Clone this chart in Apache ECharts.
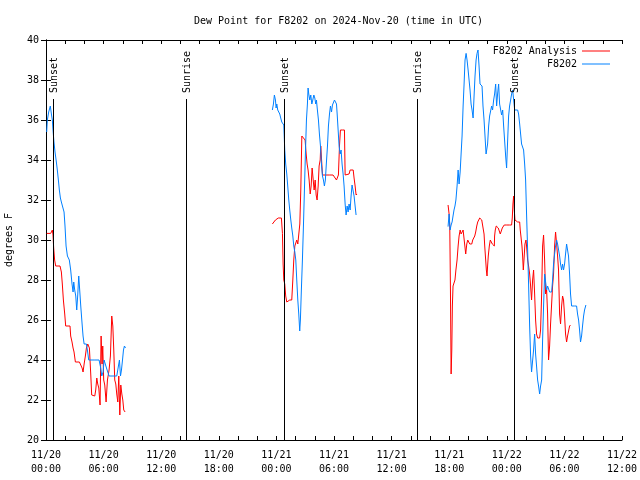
<!DOCTYPE html>
<html><head><meta charset="utf-8">
<script src="https://cdn.jsdelivr.net/npm/echarts@6/dist/echarts.min.js"></script>
<style>html,body{margin:0;padding:0;background:#fff}#c{width:640px;height:480px}</style>
</head><body><div id="c"></div>
<script>
const FONT = '"DejaVu Sans Mono", "Liberation Mono", monospace';
const titleText = 'Dew Point for F8202 on 2024-Nov-20 (time in UTC)';
const yName = 'degrees F';
const xTickLabels = ['11/20\n00:00','11/20\n06:00','11/20\n12:00','11/20\n18:00','11/21\n00:00','11/21\n06:00','11/21\n12:00','11/21\n18:00','11/22\n00:00','11/22\n06:00','11/22\n12:00'];
// hours since 2024-11-20 00:00 UTC
const sunHours = [0.76, 14.61, 24.84, 38.61, 48.73];
const sunLabels = ['Sunset','Sunrise','Sunset','Sunrise','Sunset'];
const sunTop = 37.05;

// F8202 Analysis (red)
const anaHours1 = [0.07,0.49,0.56,0.66,0.73,0.80,0.90,1.01,1.46,1.60,1.70,1.81,1.95,2.05,2.50,2.57,2.71,2.82,2.92,3.06,3.48,3.62,3.76,3.86,3.97,4.10,4.21,4.35,4.52,4.66,4.76,5.08,5.18,5.29,5.39,5.50,5.63,5.74,5.84,5.91,6.01,6.12,6.26,6.40,6.57,6.71,6.85,6.96,7.06,7.16,7.27,7.37,7.48,7.58,7.69,7.79,7.90,8.00,8.10,8.24];
const anaVals1 = [30.33,30.33,30.4,30.5,30.25,29.6,29.0,28.7,28.7,28.4,27.8,27.0,26.3,25.7,25.7,25.2,24.9,24.6,24.4,23.9,23.9,23.8,23.6,23.4,23.8,24.2,24.6,24.8,24.6,23.3,22.25,22.2,22.5,23.1,22.8,22.6,21.75,25.2,23.8,24.7,23.0,22.75,21.9,23.0,23.5,24.2,26.2,25.7,24.5,23.0,22.8,22.3,21.9,23.2,21.25,22.75,22.3,22.0,21.5,21.4];
const anaHours2 = [23.58,23.90,24.20,24.52,24.63,24.70,24.77,24.87,24.97,25.08,25.39,25.60,25.71,25.81,25.92,26.02,26.12,26.23,26.33,26.44,26.54,26.65,26.85,26.99,27.10,27.20,27.30,27.41,27.52,27.62,27.72,27.83,27.93,28.04,28.14,28.24,28.35,28.45,28.56,28.62,28.73,28.80,29.14,29.56,29.90,30.08,30.26,30.36,30.46,30.57,30.67,30.88,31.09,31.16,31.30,31.57,31.68,32.00,32.09,32.20,32.30,32.40];
const anaVals2 = [30.8,31.0,31.1,31.1,30.33,28.8,28.0,27.8,27.2,26.9,27.0,27.0,28.0,29.0,29.7,29.7,30.0,29.8,29.7,30.8,32.5,35.2,35.2,35.0,34.3,33.8,33.5,33.0,32.3,32.7,33.6,33.6,32.5,33.0,32.25,32.0,32.7,33.7,34.0,34.7,34.8,33.25,33.25,33.25,33.25,33.2,33.0,32.9,33.25,34.7,35.5,35.5,35.5,33.25,33.25,33.3,33.5,33.5,33.1,32.7,32.25,32.3];
const anaHours3 = [41.88,41.99,42.06,42.13,42.20,42.27,42.33,42.40,42.50,42.60,42.70,42.82,42.93,43.03,43.14,43.24,43.34,43.45,43.55,43.65,43.72,43.83,43.93,44.03,44.14,44.24,44.35,44.45,44.55,44.66,44.76,44.87,44.97,45.07,45.18,45.28,45.39,45.49,45.59,45.63,45.70,45.80,45.87,45.94,46.00,46.07,46.18,46.28,46.39,46.49,46.59,46.70,46.73,46.80,46.90,47.00,47.11,47.21,47.32,47.42,47.53,47.63,47.73,47.94,48.29,48.50,48.57,48.64,48.71,48.78,48.85,48.92,49.02,49.13,49.23,49.34,49.40,49.47,49.58,49.65,49.72,49.79,49.89,50.00,50.06,50.17,50.27,50.38,50.48,50.58,50.69,50.79,50.90,51.00,51.10,51.21,51.31,51.42,51.52,51.63,51.73,51.83,51.94,52.04,52.15,52.25,52.35,52.46,52.56,52.67,52.77,52.87,52.98,53.08,53.19,53.29,53.39,53.50,53.60,53.71,53.81,53.91,54.02,54.12,54.23,54.33,54.43,54.54,54.64];
const anaVals3 = [31.75,31.3,30.7,27.5,23.3,24.5,26.7,27.7,27.8,28.0,28.5,29.0,29.7,30.2,30.5,30.3,30.2,30.5,30.6,30.55,29.3,29.8,30.0,30.1,29.8,29.7,29.8,30.0,30.1,30.2,30.4,30.7,30.9,31.0,31.1,31.0,31.0,30.9,30.9,30.3,29.7,29.0,28.5,28.2,28.7,29.2,29.7,30.0,30.0,29.8,29.7,29.7,30.2,30.5,30.7,30.6,30.6,30.5,30.3,30.4,30.6,30.7,30.75,30.75,30.75,30.75,31.1,31.8,32.2,31.5,31.0,30.9,30.9,30.9,30.9,30.9,30.5,30.2,29.7,29.2,28.5,29.0,29.8,30.0,29.7,29.0,28.7,28.3,27.7,27.0,28.0,28.5,27.3,26.0,25.3,25.1,25.2,25.1,25.5,27.3,29.7,30.25,29.0,27.3,27.5,26.3,24.0,24.7,25.8,26.8,27.7,28.3,29.7,30.4,29.8,29.2,28.5,26.3,25.8,26.7,27.2,27.0,26.2,25.3,24.9,25.2,25.3,25.7,25.75];

// F8202 observations (blue)
const obsHours1 = [0.07,0.14,0.28,0.45,0.56,0.66,0.73,0.83,0.94,1.08,1.18,1.29,1.39,1.50,1.60,1.70,1.88,1.98,2.09,2.23,2.43,2.57,2.71,2.82,2.89,2.99,3.10,3.20,3.30,3.41,3.51,3.62,3.76,3.86,3.97,4.21,4.31,4.45,5.01,5.53,5.70,5.81,5.95,6.05,6.16,6.30,6.40,6.57,6.75,7.10,7.37,7.51,7.65,7.76,7.86,7.97,8.07,8.17,8.28];
const obsVals1 = [35.4,36.0,36.4,36.7,36.3,36.0,35.5,34.9,34.4,33.9,33.5,33.0,32.5,32.1,31.9,31.8,31.4,30.7,29.7,29.2,29.0,28.5,27.8,27.4,27.9,27.5,27.2,26.5,27.2,28.2,27.5,26.7,25.8,25.2,24.8,24.8,24.5,24.0,24.0,24.0,23.6,23.2,23.4,24.0,24.0,23.6,23.7,23.2,23.2,23.2,23.2,23.6,24.0,23.2,23.5,24.0,24.5,24.7,24.6];
const obsHours2 = [23.58,23.69,23.79,23.90,23.97,24.04,24.14,24.24,24.35,24.45,24.56,24.66,24.77,24.87,24.97,25.08,25.18,25.29,25.39,25.50,25.60,25.71,25.81,25.92,26.02,26.12,26.23,26.33,26.43,26.50,26.60,26.71,26.81,26.92,27.02,27.13,27.23,27.30,27.37,27.48,27.58,27.69,27.79,27.90,28.00,28.10,28.17,28.27,28.38,28.48,28.59,28.69,28.80,28.90,29.00,29.10,29.20,29.32,29.42,29.53,29.63,29.74,29.84,29.94,30.05,30.15,30.26,30.33,30.43,30.53,30.64,30.74,30.84,30.95,31.05,31.16,31.26,31.37,31.47,31.57,31.68,31.78,31.88,32.00,32.09,32.20,32.30];
const obsVals2 = [36.5,36.8,37.25,37.0,36.6,36.8,36.5,36.6,36.3,36.1,35.9,35.8,35.75,34.5,33.8,33.3,32.7,32.0,31.5,31.0,30.6,30.2,29.7,29.4,29.0,28.0,27.0,26.3,25.45,26.0,27.5,29.0,30.6,32.5,34.3,36.0,36.8,37.6,37.3,37.0,37.25,36.8,37.0,37.25,37.1,36.8,37.0,36.5,36.0,35.3,34.7,33.8,33.2,33.0,32.7,33.0,33.8,34.7,35.7,36.3,36.7,36.4,36.75,36.7,37.0,36.9,36.8,36.3,35.5,34.7,34.3,34.5,33.8,33.3,32.7,31.8,31.25,31.7,31.4,31.8,31.5,32.2,32.75,32.75,32.2,31.7,31.25];
const obsHours3 = [41.88,41.99,42.09,42.20,42.30,42.40,42.50,42.60,42.70,42.82,42.93,43.03,43.14,43.24,43.34,43.45,43.55,43.65,43.76,43.86,43.97,44.07,44.17,44.28,44.38,44.49,44.59,44.69,44.80,44.90,45.00,45.11,45.21,45.32,45.42,45.52,45.63,45.73,45.84,45.90,46.00,46.11,46.21,46.32,46.42,46.52,46.63,46.73,46.84,46.94,47.04,47.15,47.25,47.36,47.46,47.57,47.67,47.77,47.88,47.98,48.09,48.19,48.29,48.40,48.50,48.61,48.71,48.82,48.92,49.02,49.13,49.23,49.34,49.44,49.54,49.65,49.75,49.86,49.96,50.06,50.17,50.27,50.38,50.48,50.58,50.69,50.79,50.90,51.00,51.10,51.21,51.31,51.42,51.52,51.63,51.73,51.83,51.94,52.04,52.15,52.25,52.35,52.46,52.56,52.67,52.77,52.87,52.98,53.08,53.19,53.29,53.39,53.50,53.60,53.71,53.81,53.91,54.02,54.12,54.23,54.33,54.43,54.54,54.64,54.75,54.85,55.06,55.16,55.27,55.37,55.48,55.58,55.68,55.79,55.89,56.00,56.10,56.24];
const obsVals3 = [30.67,31.3,30.5,30.75,30.9,31.2,31.5,31.7,32.0,32.7,33.5,32.8,33.4,34.3,35.2,36.7,37.8,39.0,39.33,39.0,38.5,38.0,37.5,36.8,36.5,36.1,37.2,38.2,39.0,39.33,39.5,38.7,37.8,37.8,37.7,36.7,36.0,35.2,34.3,34.2,34.8,35.7,36.2,36.2,36.7,36.5,37.0,37.3,37.8,36.7,37.3,37.8,36.8,36.7,36.25,36.5,35.7,35.0,34.2,33.6,35.0,36.2,36.7,37.0,37.3,37.5,37.6,36.5,36.4,36.6,36.5,36.3,35.8,35.3,34.8,34.8,34.5,33.8,33.0,31.3,29.5,27.8,25.7,24.2,23.4,23.4,24.5,25.3,24.3,23.7,23.0,22.7,22.3,22.7,23.0,25.0,26.7,28.3,28.2,27.5,27.7,27.6,27.4,27.5,27.4,28.0,28.8,29.3,29.7,30.0,29.8,29.7,29.2,28.8,28.5,28.8,28.5,28.8,29.3,29.8,29.9,29.2,28.3,27.3,26.7,26.7,26.7,26.75,26.7,26.3,26.0,25.5,24.9,25.2,25.7,26.2,26.5,26.75];

function build(segs) {
  const out = [];
  segs.forEach(([hs, vs], i) => {
    if (i > 0) out.push([hs[0] - 0.01, null]);
    hs.forEach((h, j) => out.push([h, vs[j]]));
  });
  return out;
}
const anaData = build([[anaHours1, anaVals1], [anaHours2, anaVals2], [anaHours3, anaVals3]]);
const obsData = build([[obsHours1, obsVals1], [obsHours2, obsVals2], [obsHours3, obsVals3]]);

const chart = echarts.init(document.getElementById('c'), null, {renderer: 'canvas'});
const txt = {fontFamily: FONT, fontSize: 10, color: '#000'};
const xBase = {
  type: 'value', min: 0, max: 60, interval: 6,
  axisLine: {show: true, lineStyle: {color: '#000', width: 1}},
  axisTick: {show: true, inside: true, length: 4, lineStyle: {color: '#000'}},
  minorTick: {show: true, splitNumber: 3, length: 4, lineStyle: {color: '#000'}},
  splitLine: {show: false}
};
const yBase = {
  type: 'value', min: 20, max: 40, interval: 2,
  axisLine: {show: true, lineStyle: {color: '#000', width: 1}},
  axisTick: {show: true, inside: false, length: 5, lineStyle: {color: '#000'}},
  splitLine: {show: false}
};
chart.setOption({
  animation: false,
  backgroundColor: '#fff',
  title: {text: titleText, left: 189, top: 11,
    textStyle: {fontFamily: FONT, fontSize: 10, fontWeight: 'normal', color: '#000'}},
  grid: {left: 46, right: 18, top: 40, bottom: 40, containLabel: false, outerBoundsMode: 'none'},
  legend: [
    {data: ['F8202 Analysis'], right: 30, top: 46, align: 'right', padding: 0, icon: 'rect', itemWidth: 28, itemHeight: 1, textStyle: txt},
    {data: ['F8202'], right: 30, top: 59, align: 'right', padding: 0, icon: 'rect', itemWidth: 28, itemHeight: 1, textStyle: txt}
  ],
  xAxis: [
    Object.assign({}, xBase, {position: 'bottom',
      axisLabel: Object.assign({}, txt, {lineHeight: 14, margin: 8, showMinLabel: true, showMaxLabel: true,
        formatter: v => xTickLabels[Math.round(v / 6)]})}),
    Object.assign({}, xBase, {position: 'top', axisLabel: {show: false}})
  ],
  yAxis: [
    Object.assign({}, yBase, {position: 'left', name: yName, nameLocation: 'middle', nameGap: 32,
      nameTextStyle: txt, axisLabel: Object.assign({}, txt, {margin: 7})}),
    Object.assign({}, yBase, {position: 'right', axisLabel: {show: false}})
  ],
  series: [
    {name: 'F8202 Analysis', type: 'line', data: anaData, symbol: 'none', connectNulls: false,
      itemStyle: {color: '#ff0000'}, lineStyle: {color: '#ff0000', width: 1}, z: 3},
    {name: 'F8202', type: 'line', data: obsData, symbol: 'none', connectNulls: false,
      itemStyle: {color: '#0080ff'}, lineStyle: {color: '#0080ff', width: 1}, z: 4},
    {name: 'sun', type: 'custom', z: 5, silent: true,
      data: sunHours.map(h => [h, sunTop]),
      renderItem: (params, api) => {
        const top = api.coord([api.value(0), sunTop]);
        const bot = api.coord([api.value(0), 20]);
        const x = Math.round(top[0]) + 0.5;
        return {type: 'group', children: [
          {type: 'line', shape: {x1: x, y1: top[1], x2: x, y2: bot[1]}, style: {stroke: '#000', lineWidth: 1}},
          {type: 'text', x: x + 1, y: top[1] - 6, rotation: Math.PI / 2,
            style: {text: sunLabels[params.dataIndex], font: '10px ' + FONT, fill: '#000', textAlign: 'left', textVerticalAlign: 'middle'}}
        ]};
      }}
  ]
});
</script></body></html>
